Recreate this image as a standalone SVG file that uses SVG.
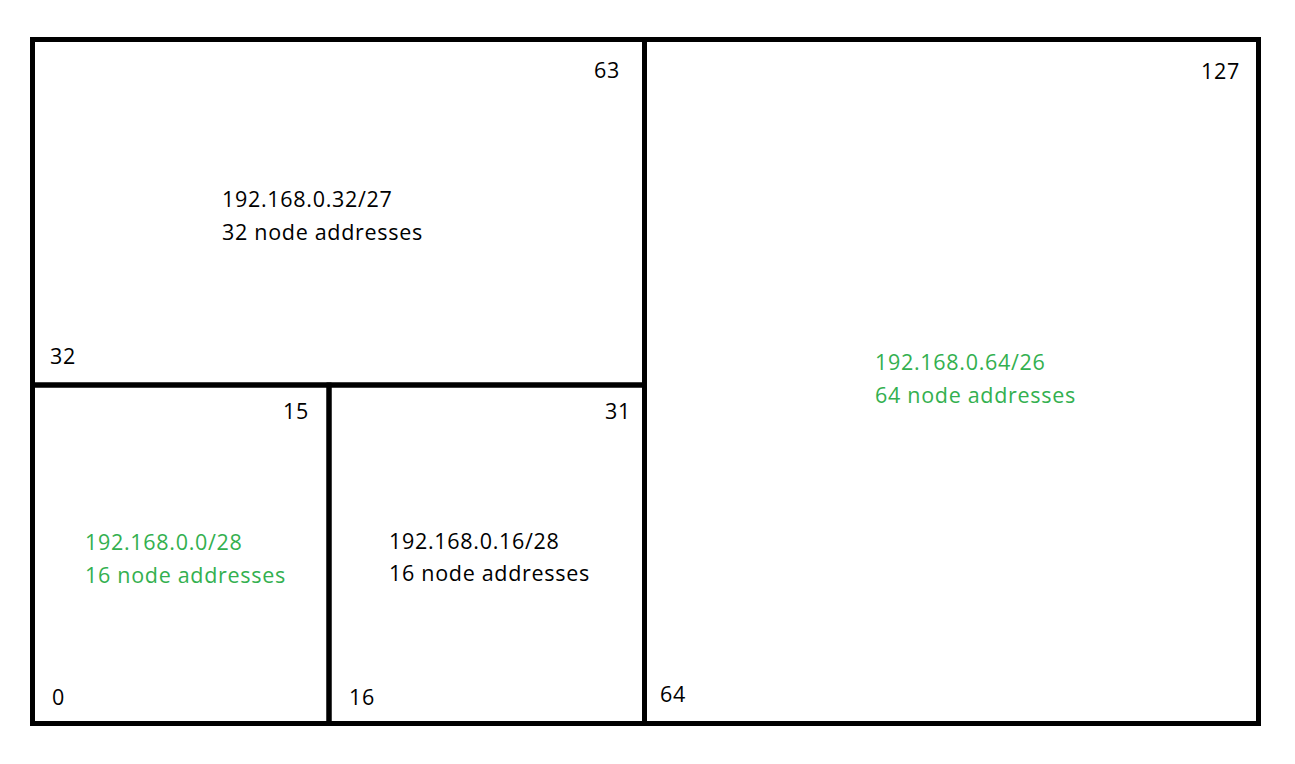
<svg xmlns="http://www.w3.org/2000/svg" width="1295" height="764" viewBox="0 0 1295 764">
<style>
.box{fill:none;stroke:#000;stroke-width:5}
text{font-family:"Open Sans","Liberation Sans",sans-serif;font-size:21.5px;letter-spacing:0.7px;fill:#000}
.g{fill:#33b04f}
.r{text-anchor:end}
</style>
<rect width="1295" height="764" fill="#fff"/>
<g id="connectors"></g>
<g id="outer"><rect class="box" x="32.5" y="39.5" width="1226" height="684"/></g>
<g id="subnet32"><rect class="box" x="32.5" y="39.5" width="612" height="345.5"/>
<text x="222" y="207">192.168.0.32/27</text><text x="222" y="240">32 node addresses</text>
<text class="r" x="620" y="78">63</text><text x="50" y="364">32</text></g>
<g id="subnet0"><rect class="box" x="32.5" y="385" width="296.5" height="338.5"/>
<text class="g" x="85" y="550">192.168.0.0/28</text><text class="g" x="85" y="583">16 node addresses</text>
<text class="r" x="309" y="419">15</text><text x="52" y="705">0</text></g>
<g id="subnet16"><rect class="box" x="329" y="385" width="315.5" height="338.5"/>
<text x="389" y="549">192.168.0.16/28</text><text x="389" y="581">16 node addresses</text>
<text class="r" x="631" y="419">31</text><text x="349" y="705">16</text></g>
<g id="subnet64"><rect class="box" x="644.5" y="39.5" width="614" height="684"/>
<text class="g" x="875" y="370">192.168.0.64/26</text><text class="g" x="875" y="403">64 node addresses</text>
<text class="r" x="1240" y="79">127</text><text x="660" y="702">64</text></g>
</svg>
